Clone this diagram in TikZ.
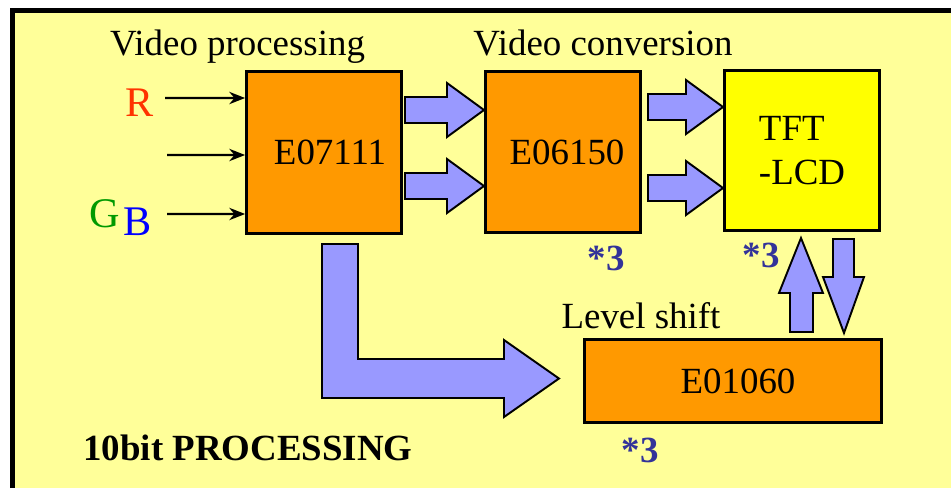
\documentclass[tikz,border=0pt]{standalone}
\usepackage{fontspec}
\setmainfont{Liberation Serif}
\usetikzlibrary{arrows.meta,positioning}

\definecolor{bgyellow}{HTML}{FFFF99}
\definecolor{chiporange}{HTML}{FF9900}
\definecolor{lcdyellow}{HTML}{FFFF00}
\definecolor{busblue}{HTML}{9999FF}
\definecolor{noteblue}{HTML}{333399}
\definecolor{redin}{HTML}{FF3300}
\definecolor{greenin}{HTML}{009900}

\begin{document}
\begin{tikzpicture}[x=0.02cm,y=-0.02cm,
    chip/.style={rectangle,draw,line width=1.6pt,fill=chiporange,font=\fontsize{21}{25}\selectfont,inner sep=0pt},
    lbl/.style={font=\fontsize{21}{25}\selectfont,inner sep=0pt,anchor=base},
    note/.style={font=\fontsize{21}{25}\selectfont\bfseries,text=noteblue,inner sep=0pt,anchor=base},
    chan/.style={font=\fontsize{24}{28}\selectfont,inner sep=0pt,anchor=base},
    bus/.style={fill=busblue,draw=black,line width=1.1pt,line join=miter},
    wire/.style={-{Stealth[length=9pt,width=7pt]},line width=1.3pt}
]

% === Frame ===
\useasboundingbox (0,0) rectangle (951,488);
\fill[white] (0,0) rectangle (951,488);
\fill[bgyellow] (12,10) rectangle (951,488);
\draw[line width=0.1cm] (12.5,488) -- (12.5,10.5) -- (951,10.5);

% === Blocks ===
\node[chip,minimum width=3.1cm,minimum height=3.24cm] (proc) at (324,152.5) {\hspace*{0.24cm}E07111};
\node[chip,minimum width=3.1cm,minimum height=3.22cm] (conv) at (563,152) {\hspace*{0.16cm}E06150};
\node[chip,fill=lcdyellow,minimum width=3.1cm,minimum height=3.2cm,align=left] (lcd) at (802,150.5) {TFT\\-LCD};
\node[chip,minimum width=5.94cm,minimum height=1.66cm] (shift) at (733,381) {\hspace*{0.2cm}E01060};

% === Titles ===
\node[lbl] (proctitle) at (237.5,55) {Video processing};
\node[lbl] (convtitle) at (603,55) {Video conversion};
\node[lbl] (shifttitle) at (641,328) {Level shift};
\node[lbl,font=\fontsize{21}{25}\selectfont\bfseries,anchor=base west] (bits) at (83,460) {10bit PROCESSING};

% === Inputs ===
\node[chan,text=redin] (r) at (140,116) {R};
\node[chan,text=greenin] (g) at (105,227) {G};
\node[chan,text=blue] (b) at (137.5,235) {B};
\draw[wire] (165,98) -- ([yshift=1.09cm]proc.west);
\draw[wire] (167,155) -- ([yshift=-0.05cm]proc.west);
\draw[wire] (167,214) -- ([yshift=-1.23cm]proc.west);

% === Buses ===
\foreach \xs/\xh/\xt/\yc in {405/447/484/110, 405/447/484/186, 648/686/723/107, 648/686/723/188}
  \draw[bus] (\xs,\yc-13) -- (\xh,\yc-13) -- (\xh,\yc-27) -- (\xt,\yc) -- (\xh,\yc+27) -- (\xh,\yc+13) -- (\xs,\yc+13) -- cycle;

% bend down to the level shifter
\draw[bus] (322,244) -- (358,244) -- (358,359) -- (504,359) -- (504,340) -- (559,378.5)
  -- (504,417) -- (504,398) -- (322,398) -- cycle;

% level shifter <-> panel
\draw[bus] (790,332) -- (790,293) -- (779,293) -- (801,238) -- (823,293) -- (813,293) -- (813,332) -- cycle;
\draw[bus] (833,239) -- (854,239) -- (854,277) -- (864,277) -- (844,333) -- (823,277) -- (833,277) -- cycle;

% === Notes ===
\node[note] (n1) at (606,270) {*3};
\node[note] (n2) at (761,267) {*3};
\node[note] (n3) at (640,462) {*3};

\end{tikzpicture}
\end{document}
